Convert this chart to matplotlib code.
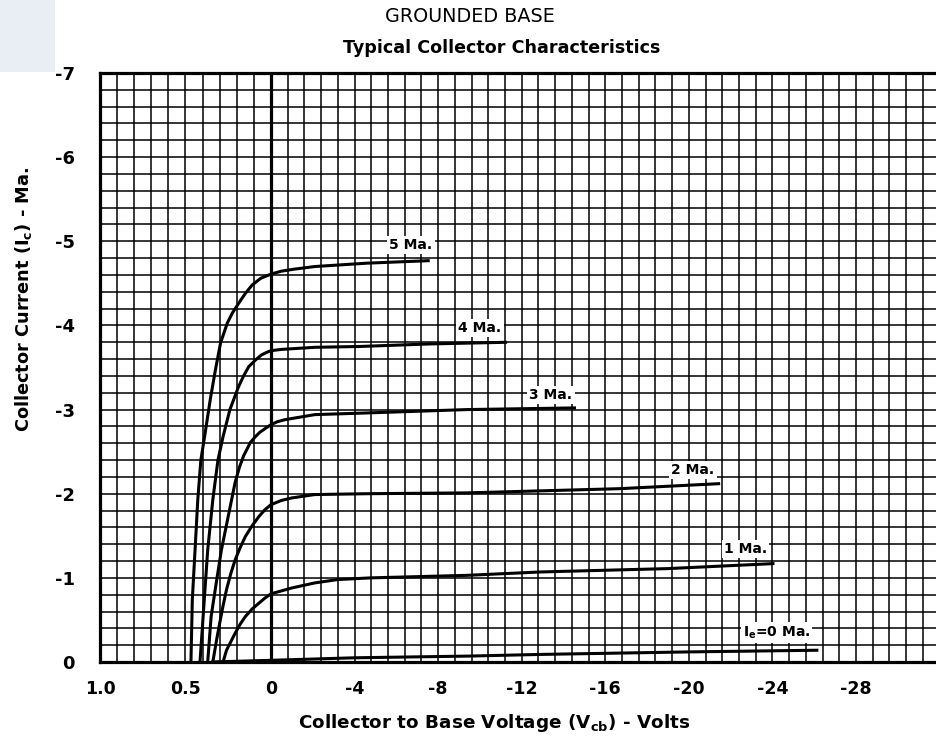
import numpy as np
import matplotlib
matplotlib.use('Agg')
import matplotlib.pyplot as plt
from matplotlib.patches import Rectangle

plt.rcParams['font.family'] = 'DejaVu Sans'
plt.rcParams['mathtext.fontset'] = 'dejavusans'

# Collector characteristics (V in volts, Ic in mA)
v_5 = [0.468, 0.46, 0.444, 0.428, 0.41, 0.385, 0.355, 0.325, 0.295, 0.255, 0.225, 0.19, 0.15, 0.11, 0.06, 0.0,
       -0.5, -1.15, -2.1, -4.6, -7.6]
i_5 = [0.0, -0.74, -1.33, -1.93, -2.40, -2.72, -3.12, -3.47, -3.79, -4.03, -4.15, -4.26, -4.38, -4.48, -4.56, -4.61,
       -4.645, -4.67, -4.70, -4.74, -4.77]

v_4 = [0.415, 0.39, 0.37, 0.34, 0.31, 0.28, 0.24, 0.19, 0.16, 0.13, 0.09, 0.055, 0.025, 0.0, -0.5, -2.1, -4.26,
       -7.6, -11.3]
i_4 = [0.0, -0.74, -1.33, -1.93, -2.40, -2.68, -3.0, -3.27, -3.40, -3.51, -3.59, -3.65, -3.68, -3.70, -3.715, -3.74,
       -3.75, -3.78, -3.80]

v_3 = [0.37, 0.35, 0.32, 0.29, 0.25, 0.21, 0.185, 0.16, 0.12, 0.09, 0.065, 0.03, 0.0, -0.3, -0.67, -2.1, -4.6,
       -9.4, -14.6]
i_3 = [0.0, -0.54, -0.94, -1.33, -1.73, -2.13, -2.31, -2.45, -2.61, -2.68, -2.73, -2.78, -2.82, -2.855, -2.88,
       -2.94, -2.96, -3.0, -3.02]

v_2 = [0.34, 0.32, 0.30, 0.28, 0.26, 0.235, 0.21, 0.18, 0.15, 0.11, 0.07, 0.035, 0.0, -0.5, -1.0, -2.1, -4.6,
       -9.4, -16.7, -21.5]
i_2 = [0.0, -0.24, -0.46, -0.67, -0.86, -1.05, -1.21, -1.36, -1.49, -1.62, -1.73, -1.81, -1.87, -1.92, -1.95,
       -1.99, -2.0, -2.01, -2.06, -2.12]

v_1 = [0.28, 0.26, 0.24, 0.21, 0.18, 0.15, 0.11, 0.07, 0.035, 0.0, -1.0, -2.1, -3.2, -4.8, -9.4, -12.9, -19.0,
       -24.1]
i_1 = [0.0, -0.14, -0.22, -0.34, -0.45, -0.54, -0.63, -0.70, -0.76, -0.81, -0.88, -0.94, -0.98, -1.0, -1.03,
       -1.07, -1.11, -1.17]

v_0 = [0.35, 0.0, -4.0, -9.4, -12.9, -20.0, -26.2]
i_0 = [0.0, -0.02, -0.05, -0.07, -0.09, -0.12, -0.14]

curve_labels = ['5 Ma.', '4 Ma.', '3 Ma.', '2 Ma.', '1 Ma.', r'I$_\mathbf{e}$=0 Ma.']

x_tick_vals = [1.0, 0.5, 0, -4, -8, -12, -16, -20, -24, -28]
x_tick_text = ['1.0', '0.5', '0', '-4', '-8', '-12', '-16', '-20', '-24', '-28']
y_tick_vals = [0, -1, -2, -3, -4, -5, -6, -7]
y_tick_text = ['0', '-1', '-2', '-3', '-4', '-5', '-6', '-7']


# split scale: 0.1 V per cell left of zero, 0.8 V per cell right of it
def fwd(v):
    v = np.asarray(v, dtype=float)
    return np.where(v >= 0, v * 171.0, v * 20.9)


def inv(u):
    u = np.asarray(u, dtype=float)
    return np.where(u >= 0, u / 171.0, u / 20.9)


fig = plt.figure(figsize=(9.36, 7.44), dpi=100)
fig.add_artist(Rectangle((0, 1 - 72 / 744), 55 / 936, 72 / 744, transform=fig.transFigure,
                         facecolor='#e9edf4', edgecolor='none'))
ax = fig.add_axes([100 / 936, 82 / 744, 850 / 936, 589 / 744])
ax.set_xscale('function', functions=(fwd, inv))
ax.set_xlim(1.0, -32.5)
ax.set_ylim(0, -7)

# graph paper
grid_v = [1.0 - 0.1 * k for k in range(1, 10)] + [-0.8 * k for k in range(1, 41)]
for gv in grid_v:
    ax.axvline(gv, color='black', lw=1.1, zorder=1)
for k in range(1, 35):
    ax.axhline(-0.2 * k, color='black', lw=1.1, zorder=1)
ax.axvline(0, color='black', lw=2.3, zorder=2)

for sp in ['left', 'top', 'bottom']:
    ax.spines[sp].set_linewidth(2.3)
ax.spines['right'].set_visible(False)

# curves
for vv, ii in [(v_5, i_5), (v_4, i_4), (v_3, i_3), (v_2, i_2), (v_1, i_1), (v_0, i_0)]:
    ax.plot(vv, ii, color='black', lw=2.2, solid_capstyle='butt', solid_joinstyle='round', zorder=3)

label_pos = [(-6.7, -4.96), (-10.0, -3.97), (-13.4, -3.17), (-20.2, -2.28), (-22.7, -1.34), (-24.2, -0.35)]
for txt, (lx, ly) in zip(curve_labels, label_pos):
    ax.text(lx, ly, txt, fontsize=10, fontweight='bold', ha='center', va='center', zorder=4,
            bbox=dict(facecolor='white', edgecolor='none', pad=1.5))

ax.set_xticks(x_tick_vals)
ax.set_xticklabels(x_tick_text, fontsize=12.5, fontweight='bold')
ax.set_yticks(y_tick_vals)
ax.set_yticklabels(y_tick_text, fontsize=13, fontweight='bold')
ax.xaxis.set_minor_locator(matplotlib.ticker.NullLocator())
ax.tick_params(axis='x', length=0, pad=13)
ax.tick_params(axis='y', length=0, pad=18)

ax.set_xlabel(r'Collector to Base Voltage (V$_\mathbf{cb}$) - Volts', fontsize=13.2, fontweight='bold')
ax.xaxis.set_label_coords(394 / 850, -50 / 589)
ax.set_ylabel(r'Collector Current (I$_\mathbf{c}$) - Ma.', fontsize=12.8, fontweight='bold')
ax.yaxis.set_label_coords(-66 / 850, 0.615)

fig.text(470 / 936, 1 - 17 / 744, 'GROUNDED BASE', fontsize=13.8, ha='center', va='center')
fig.text(502 / 936, 1 - 48 / 744, 'Typical Collector Characteristics', fontsize=12.6,
         fontweight='bold', ha='center', va='center')

fig.savefig('out.png', dpi=100, facecolor='white')
